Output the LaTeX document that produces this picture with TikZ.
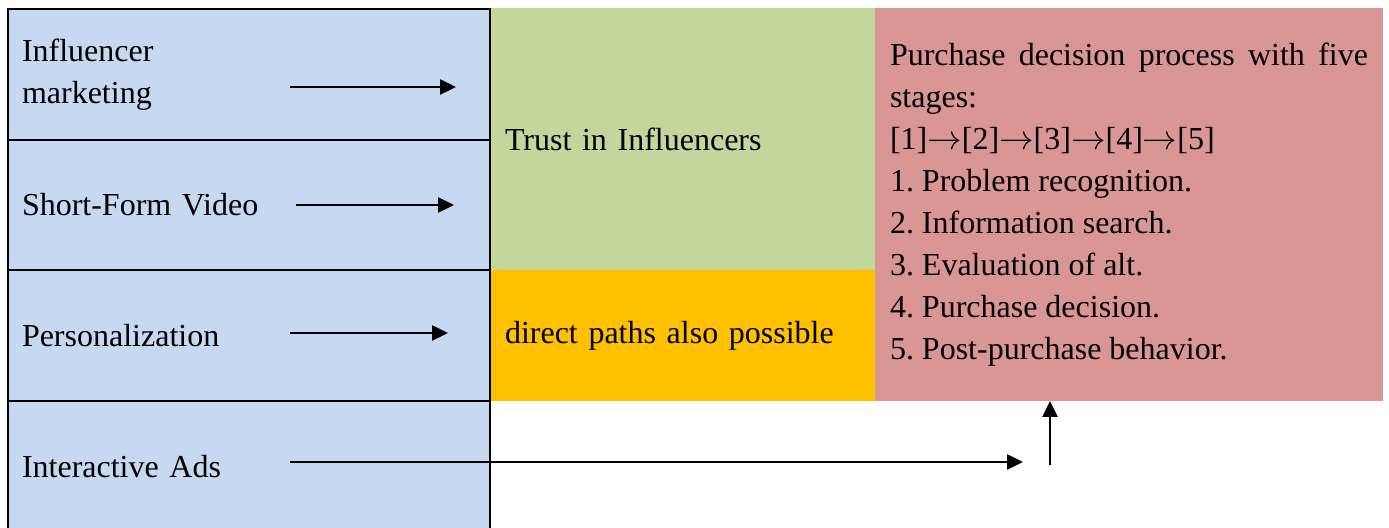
\documentclass[tikz,border=0pt]{standalone}
\usepackage{fontspec}
\setmainfont{Liberation Serif}
\usetikzlibrary{arrows.meta,positioning}
\definecolor{driverblue}{HTML}{C6D9F1}
\definecolor{trustgreen}{HTML}{C3D69B}
\definecolor{directorange}{HTML}{FFC000}
\definecolor{decisionpink}{HTML}{D99694}
\frenchspacing

\begin{document}
\begin{tikzpicture}[
  x=0.5pt, y=-0.5pt,
  font=\fontsize{16}{21}\selectfont,
  cell/.style={anchor=north west, inner xsep=7pt, inner ysep=0pt,
    outer sep=0pt, align=left},
  driver/.style={cell, draw=black, line width=1pt, fill=driverblue,
    text width=227pt, minimum height=65.3pt},
  arrow/.style={-{Triangle[length=8pt, width=7.5pt]}, line width=1.25pt}
]
\useasboundingbox (0,0) rectangle (1389,528);

% mediator, direct path and outcome blocks
\node[cell, fill=trustgreen, text width=178pt, minimum height=131pt]
  (trust) at (491,8) {Trust in Influencers};
\node[cell, fill=directorange, text width=178pt, minimum height=65.5pt]
  (direct) at (491,270) {direct paths also possible};
\node[cell, fill=decisionpink, inner xsep=7.5pt, text width=239pt,
  align=justify, minimum height=196.5pt] (decision) at (875,8)
  {Purchase decision process with five stages:\\
   {[1]}$\rightarrow$[2]$\rightarrow$[3]$\rightarrow$[4]$\rightarrow$[5]\\
   1. Problem recognition.\\
   2. Information search.\\
   3. Evaluation of alt.\\
   4. Purchase decision.\\
   5. Post-purchase behavior.};

% drivers
\node[driver] (influencer) at (8,9) {Influencer\\marketing};
\node[driver, below=0pt of influencer] (video) {Short-Form Video};
\node[driver, below=0pt of video] (personal) {Personalization};
\node[driver, below=0pt of personal] (ads) {Interactive Ads};

\coordinate (influencer-tail) at (290,87);
\coordinate (influencer-head) at (456,87);
\coordinate (video-tail) at (296,205);
\coordinate (video-head) at (454,205);
\coordinate (personal-tail) at (290,333);
\coordinate (personal-head) at (448,333);
\coordinate (ads-tail) at (290,462);
\coordinate (ads-head) at (1023,462);
\coordinate (ads-up) at (1050,465);

\draw[arrow] (influencer-tail) -- (influencer-head);
\draw[arrow] (video-tail) -- (video-head);
\draw[arrow] (personal-tail) -- (personal-head);
\draw[arrow] (ads-tail) -- (ads-head);
\draw[arrow] (ads-up) -- (ads-up |- decision.south);

\end{tikzpicture}
\end{document}
